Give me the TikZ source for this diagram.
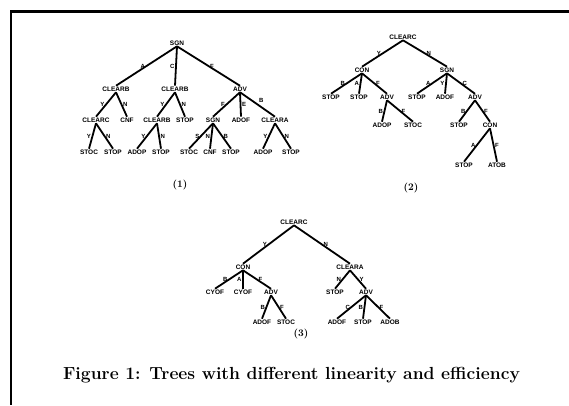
\documentclass[tikz,border=0pt]{standalone}
\usepackage{fontspec}
\newfontfamily\lblfont{Liberation Sans}
\begin{document}
\begin{tikzpicture}[x=1pt,y=-1pt,
  tn/.style={font=\lblfont\bfseries\fontsize{6.5}{7}\selectfont, inner sep=0.8pt},
  el/.style={font=\lblfont\bfseries\fontsize{6}{7}\selectfont, inner sep=0.7pt, midway},
  br/.style={line width=1.8pt},
  num/.style={font=\bfseries\fontsize{10}{12}\selectfont, inner sep=0pt},
  frameline/.style={line width=3pt}
]
\useasboundingbox[fill=white] (0,0) rectangle (569,405);
% frame
\coordinate (fl) at (10,11);
\coordinate (fr) at (569,11);
\coordinate (ft) at (11,10);
\coordinate (fb) at (11,405);
\draw[frameline] (fl) -- (fr);
\draw[line width=2.5pt] (ft) -- (fb);

% ---------------- Tree 1 ----------------
\node[tn] (r1) at (177,43) {SGN};
\node[tn] (a1) at (116,89) {CLEARB};
\node[tn] (b1) at (175,89) {CLEARB};
\node[tn] (c1) at (240,89) {ADV};
\node[tn] (a1a) at (96,120) {CLEARC};
\node[tn] (a1b) at (127,120) {CNF};
\node[tn] (b1a) at (157,120) {CLEARB};
\node[tn] (b1b) at (185,120) {STOP};
\node[tn] (c1a) at (213,120) {SGN};
\node[tn] (c1b) at (241,120) {ADOF};
\node[tn] (c1c) at (275,120) {CLEARA};
\node[tn] (a1a1) at (89,152) {STOC};
\node[tn] (a1a2) at (113,152) {STOP};
\node[tn] (b1a1) at (137,152) {ADOP};
\node[tn] (b1a2) at (161,152) {STOP};
\node[tn] (c1a1) at (189,152) {STOC};
\node[tn] (c1a2) at (210,152) {CNF};
\node[tn] (c1a3) at (231,152) {STOP};
\node[tn] (c1c1) at (263,152) {ADOP};
\node[tn] (c1c2) at (291,152) {STOP};
\node[num] (t1) at (180,185) {(1)};

\draw[br] (r1.south) -- (a1.north) node[el,left]{A};
\draw[br] (r1.south) -- (b1.north) node[el,left]{C};
\draw[br] (r1.south) -- (c1.north) node[el,right]{F};
\draw[br] (a1.south) -- (a1a.north) node[el,left]{Y};
\draw[br] (a1.south) -- (a1b.north) node[el,right]{N};
\draw[br] (b1.south) -- (b1a.north) node[el,left]{Y};
\draw[br] (b1.south) -- (b1b.north) node[el,right]{N};
\draw[br] (c1.south) -- (c1a.north) node[el,left]{F};
\draw[br] (c1.south) -- (c1b.north) node[el,right]{E};
\draw[br] (c1.south) -- (c1c.north) node[el,above right]{B};
\draw[br] (a1a.south) -- (a1a1.north) node[el,left]{Y};
\draw[br] (a1a.south) -- (a1a2.north) node[el,right]{N};
\draw[br] (b1a.south) -- (b1a1.north) node[el,left]{Y};
\draw[br] (b1a.south) -- (b1a2.north) node[el,right]{N};
\draw[br] (c1a.south) -- (c1a1.north) node[el,left]{S};
\draw[br] (c1a.south) -- (c1a2.north) node[el,left]{N};
\draw[br] (c1a.south) -- (c1a3.north) node[el,right]{B};
\draw[br] (c1c.south) -- (c1c1.north) node[el,left]{Y};
\draw[br] (c1c.south) -- (c1c2.north) node[el,right]{N};

% ---------------- Tree 2 ----------------
\node[tn] (r2) at (403,37) {CLEARC};
\node[tn] (a2) at (362,70) {CON};
\node[tn] (b2) at (447,70) {SGN};
\node[tn] (a2a) at (331,97) {STOP};
\node[tn] (a2b) at (359,97) {STOP};
\node[tn] (a2c) at (387,97) {ADV};
\node[tn] (a2c1) at (382,125) {ADOP};
\node[tn] (a2c2) at (413,125) {STOC};
\node[tn] (b2a) at (417,97) {STOP};
\node[tn] (b2b) at (445,97) {ADOF};
\node[tn] (b2c) at (475,97) {ADV};
\node[tn] (b2c1) at (459,125) {STOP};
\node[tn] (b2c2) at (490,125) {CON};
\node[tn] (b2c21) at (464,165) {STOP};
\node[tn] (b2c22) at (497,165) {ATOB};
\node[num] (t2) at (411,188) {(2)};

\draw[br] (r2.south) -- (a2.north) node[el,left]{Y};
\draw[br] (r2.south) -- (b2.north) node[el,right]{N};
\draw[br] (a2.south) -- (a2a.north) node[el,left]{B};
\draw[br] (a2.south) -- (a2b.north) node[el,left]{A};
\draw[br] (a2.south) -- (a2c.north) node[el,right]{F};
\draw[br] (a2c.south) -- (a2c1.north) node[el,left]{B};
\draw[br] (a2c.south) -- (a2c2.north) node[el,right]{F};
\draw[br] (b2.south) -- (b2a.north) node[el,left]{A};
\draw[br] (b2.south) -- (b2b.north) node[el,left]{Y};
\draw[br] (b2.south) -- (b2c.north) node[el,right]{C};
\draw[br] (b2c.south) -- (b2c1.north) node[el,left]{B};
\draw[br] (b2c.south) -- (b2c2.north) node[el,right]{F};
\draw[br] (b2c2.south) -- (b2c21.north) node[el,left]{A};
\draw[br] (b2c2.south) -- (b2c22.north) node[el,right]{F};

% ---------------- Tree 3 ----------------
\node[tn] (r3) at (294,222) {CLEARC};
\node[tn] (a3) at (243,267) {CON};
\node[tn] (b3) at (350,267) {CLEARA};
\node[tn] (a3a) at (215,292) {CYOF};
\node[tn] (a3b) at (243,292) {CYOF};
\node[tn] (a3c) at (271,292) {ADV};
\node[tn] (a3c1) at (262,322) {ADOF};
\node[tn] (a3c2) at (286,322) {STOC};
\node[tn] (b3a) at (335,292) {STOP};
\node[tn] (b3b) at (366,292) {ADV};
\node[tn] (b3b1) at (337,322) {ADOF};
\node[tn] (b3b2) at (363,322) {STOP};
\node[tn] (b3b3) at (390,322) {ADOB};
\node[num] (t3) at (301,334) {(3)};

\draw[br] (r3.south) -- (a3.north) node[el,left]{Y};
\draw[br] (r3.south) -- (b3.north) node[el,right]{N};
\draw[br] (a3.south) -- (a3a.north) node[el,left]{B};
\draw[br] (a3.south) -- (a3b.north) node[el,left]{A};
\draw[br] (a3.south) -- (a3c.north) node[el,right]{F};
\draw[br] (a3c.south) -- (a3c1.north) node[el,left]{B};
\draw[br] (a3c.south) -- (a3c2.north) node[el,right]{F};
\draw[br] (b3.south) -- (b3a.north) node[el,left]{N};
\draw[br] (b3.south) -- (b3b.north) node[el,right]{Y};
\draw[br] (b3b.south) -- (b3b1.north) node[el,left]{C};
\draw[br] (b3b.south) -- (b3b2.north) node[el,left]{B};
\draw[br] (b3b.south) -- (b3b3.north) node[el,right]{F};

% caption
\node[font=\bfseries\fontsize{17.5}{20}\selectfont, inner sep=0pt] (cap) at (291.5,375)
  {Figure 1: Trees with different linearity and efficiency};
\end{tikzpicture}
\end{document}
